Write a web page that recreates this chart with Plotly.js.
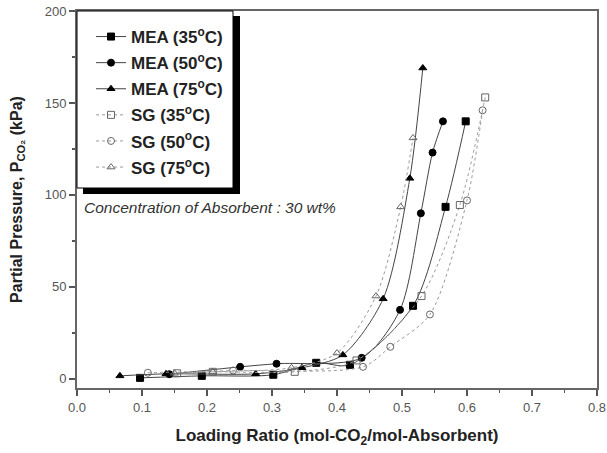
<!DOCTYPE html>
<html>
<head>
<meta charset="utf-8">
<script src="https://cdn.plot.ly/plotly-3.0.1.min.js"></script>
<style>html,body{margin:0;padding:0;background:#fff;}#chart{width:607px;height:453px;}</style>
</head>
<body>
<div id="chart"></div>
<script>
// Loading ratio (mol-CO2/mol-Absorbent) and partial pressure (kPa)
const mea35X = [0.097, 0.192, 0.302, 0.368, 0.420, 0.517, 0.567, 0.598];
const mea35Y = [0.5, 1.6, 2.2, 8.7, 7.6, 39.7, 93.5, 140];
const mea50X = [0.142, 0.251, 0.307, 0.438, 0.497, 0.529, 0.547, 0.563];
const mea50Y = [2.5, 6.5, 8.2, 11.4, 37.5, 90, 123, 140];
const mea75X = [0.066, 0.137, 0.275, 0.346, 0.409, 0.471, 0.512, 0.532];
const mea75Y = [1.6, 2.7, 2.7, 6.0, 13, 43.5, 109, 169];
const sg35X = [0.154, 0.209, 0.335, 0.430, 0.530, 0.589, 0.628];
const sg35Y = [3.0, 3.8, 3.8, 10, 45, 94.5, 153];
const sg50X = [0.109, 0.240, 0.440, 0.482, 0.543, 0.600, 0.624];
const sg50Y = [3.3, 4.5, 6.5, 17.4, 35, 97, 146];
const sg75X = [0.150, 0.209, 0.330, 0.400, 0.460, 0.498, 0.517];
const sg75Y = [3.0, 3.8, 6.0, 14, 45, 93.5, 131];

const seriesNames = ['MEA (35<sup>o</sup>C)', 'MEA (50<sup>o</sup>C)', 'MEA (75<sup>o</sup>C)',
                     'SG (35<sup>o</sup>C)', 'SG (50<sup>o</sup>C)', 'SG (75<sup>o</sup>C)'];
const xTickVals = [0, 0.1, 0.2, 0.3, 0.4, 0.5, 0.6, 0.7, 0.8];
const xTickText = ['0.0', '0.1', '0.2', '0.3', '0.4', '0.5', '0.6', '0.7', '0.8'];
const yTickVals = [0, 50, 100, 150, 200];

const xs = [mea35X, mea50X, mea75X, sg35X, sg50X, sg75X];
const ys = [mea35Y, mea50Y, mea75Y, sg35Y, sg50Y, sg75Y];
const symbols = ['square', 'circle', 'triangle-up', 'square-open', 'circle-open', 'triangle-up-open'];

const traces = xs.map((x, i) => {
  const mea = i < 3;
  return {
    x: x, y: ys[i], name: seriesNames[i], type: 'scatter', mode: 'lines+markers',
    legendgroup: 'g' + i,
    line: {shape: 'spline', smoothing: 0.8, color: mea ? '#444' : '#999', width: 1, dash: mea ? 'solid' : 'dot'},
    marker: {symbol: symbols[i], size: 7,
             color: mea ? '#000' : '#666',
             line: {color: mea ? '#000' : '#666', width: 1}}
  };
});

const L = 77, R = 597, T = 11, B = 388;
const px2x = p => (p - L) / (R - L);
const px2y = p => (B - p) / (B - T);
const fam = '"Liberation Sans", Arial, sans-serif';

const layout = {
  width: 607, height: 453,
  margin: {l: L, r: 607 - R, t: T, b: 453 - B, pad: 0},
  paper_bgcolor: '#fff', plot_bgcolor: '#fff',
  font: {family: fam, color: '#222'},
  showlegend: true,
  legend: {x: px2x(91), y: px2y(19), xanchor: 'left', yanchor: 'top',
           bgcolor: 'rgba(0,0,0,0)', borderwidth: 0, traceorder: 'grouped', tracegroupgap: 1,
           font: {size: 17, color: '#222', family: fam, weight: 'bold'}},
  xaxis: {range: [0, 0.8], tickvals: xTickVals, ticktext: xTickText, ticks: 'outside', ticklen: 6, tickwidth: 1.5,
          tickcolor: '#555', showline: true, linecolor: '#666', linewidth: 2, mirror: true, zeroline: false, showgrid: false,
          tickfont: {size: 13, color: '#555'},
          minor: {dtick: 0.05, ticks: 'outside', ticklen: 3, tickcolor: '#555', showgrid: false},
          title: {text: 'Loading Ratio (mol-CO<sub>2</sub>/mol-Absorbent)', font: {size: 17, color: '#222', weight: 'bold'}, standoff: 16}},
  yaxis: {range: [-5, 200], tickvals: yTickVals, ticks: 'outside', ticklen: 6, tickwidth: 1.5,
          tickcolor: '#555', showline: true, linecolor: '#666', linewidth: 2, mirror: true, zeroline: false, showgrid: false,
          tickfont: {size: 13, color: '#555'},
          minor: {dtick: 25, ticks: 'outside', ticklen: 3, tickcolor: '#555', showgrid: false},
          title: {text: 'Partial Pressure, P<sub>CO₂</sub> (kPa)', font: {size: 16, color: '#222', weight: 'bold'}, standoff: 18}},
  shapes: [
    {type: 'rect', xref: 'paper', yref: 'paper', x0: px2x(83), x1: px2x(240), y0: px2y(194), y1: px2y(16),
     fillcolor: '#000', line: {width: 0}, layer: 'above'},
    {type: 'rect', xref: 'paper', yref: 'paper', x0: px2x(77), x1: px2x(233), y0: px2y(188), y1: px2y(11),
     fillcolor: '#fff', line: {width: 1, color: '#000'}, layer: 'above'}
  ],
  annotations: [
    {text: 'Concentration of Absorbent : 30 wt%', xref: 'paper', yref: 'paper', x: px2x(82), y: px2y(207),
     xanchor: 'left', yanchor: 'middle', showarrow: false,
     font: {size: 15.5, style: 'italic', color: '#333', family: fam}}
  ]
};

Plotly.newPlot('chart', traces, layout, {displayModeBar: false, staticPlot: true});
</script>
</body>
</html>
